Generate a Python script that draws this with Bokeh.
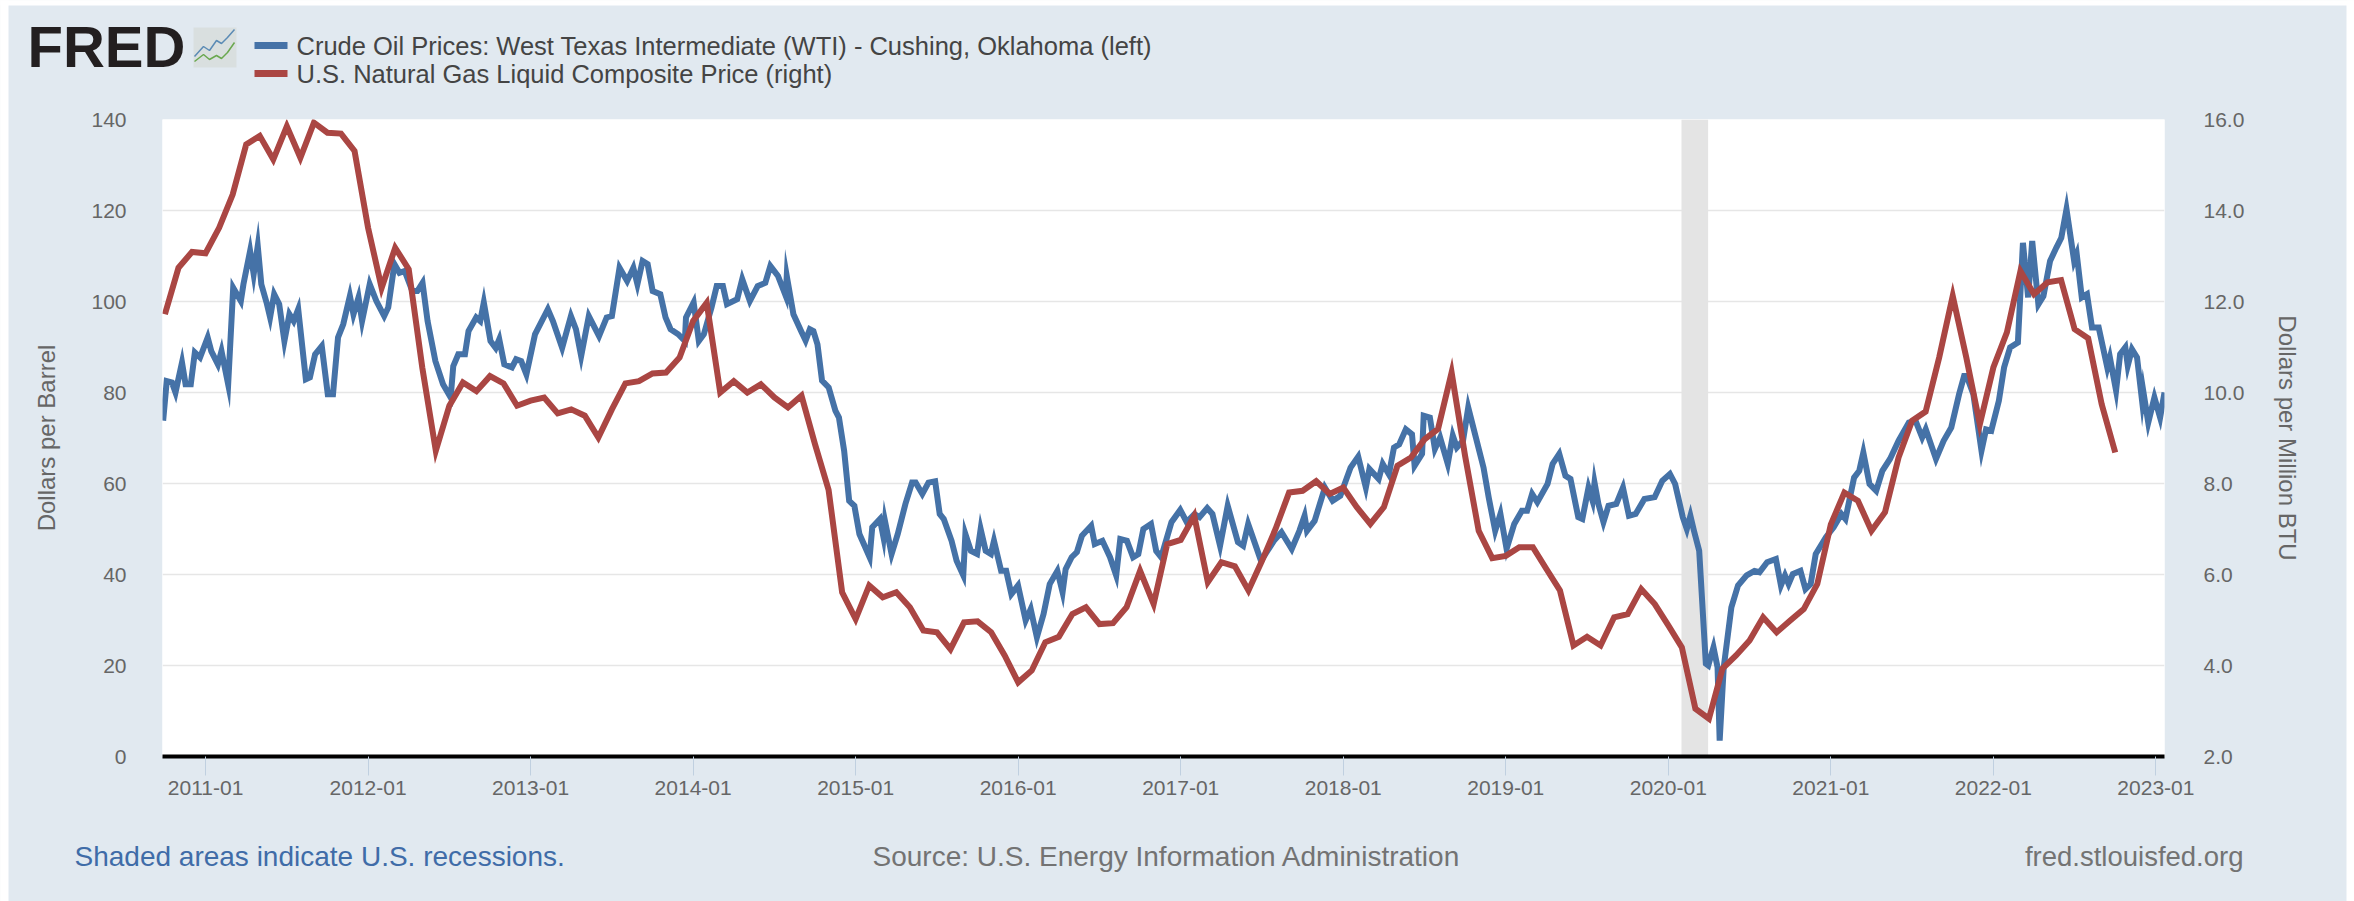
from bokeh.plotting import figure
from bokeh.models import Range1d, LinearAxis, FixedTicker
from bokeh.core.properties import value
from bokeh.embed import file_html
from bokeh.resources import INLINE

# ---------- data ----------
oil_year = [
2010.739,2010.761,2010.793,2010.815,2010.855,2010.877,2010.909,2010.934,2010.966,2011.013,2011.035,2011.076,2011.098,2011.139,2011.170,2011.217,2011.233,2011.274,2011.296,2011.321,
2011.343,2011.375,2011.397,2011.422,2011.453,2011.485,2011.516,2011.542,2011.570,2011.617,2011.642,2011.674,2011.715,2011.752,2011.784,2011.815,2011.847,2011.888,2011.910,2011.941,
2011.963,2012.010,2012.051,2012.099,2012.124,2012.162,2012.193,2012.225,2012.272,2012.303,2012.335,2012.366,2012.414,2012.461,2012.508,2012.524,2012.555,2012.596,2012.618,2012.665,
2012.690,2012.712,2012.753,2012.785,2012.807,2012.838,2012.885,2012.911,2012.942,2012.974,2013.027,2013.106,2013.137,2013.194,2013.248,2013.279,2013.311,2013.358,2013.421,2013.468,
2013.500,2013.547,2013.594,2013.632,2013.657,2013.689,2013.720,2013.751,2013.798,2013.830,2013.861,2013.908,2013.949,2013.956,2014.003,2014.035,2014.066,2014.113,2014.145,2014.183,
2014.208,2014.271,2014.302,2014.349,2014.397,2014.444,2014.475,2014.522,2014.570,2014.576,2014.617,2014.664,2014.692,2014.718,2014.740,2014.765,2014.793,2014.834,2014.875,2014.897,
2014.929,2014.960,2014.992,2015.023,2015.086,2015.102,2015.149,2015.171,2015.180,2015.221,2015.259,2015.306,2015.347,2015.369,2015.410,2015.448,2015.489,2015.517,2015.542,2015.590,
2015.621,2015.662,2015.675,2015.709,2015.747,2015.769,2015.800,2015.832,2015.851,2015.895,2015.926,2015.958,2015.999,2016.046,2016.077,2016.115,2016.156,2016.194,2016.241,2016.273,
2016.292,2016.329,2016.361,2016.392,2016.449,2016.471,2016.518,2016.565,2016.603,2016.628,2016.669,2016.707,2016.739,2016.770,2016.817,2016.849,2016.880,2016.943,2016.997,2017.037,
2017.085,2017.116,2017.163,2017.195,2017.242,2017.289,2017.352,2017.384,2017.415,2017.494,2017.573,2017.620,2017.683,2017.730,2017.762,2017.777,2017.824,2017.887,2017.935,2017.982,
2018.045,2018.092,2018.139,2018.161,2018.218,2018.243,2018.281,2018.312,2018.344,2018.385,2018.423,2018.439,2018.485,2018.495,2018.533,2018.564,2018.596,2018.643,2018.674,2018.699,
2018.737,2018.769,2018.816,2018.863,2018.895,2018.935,2018.967,2019.005,2019.052,2019.099,2019.131,2019.162,2019.194,2019.257,2019.288,2019.329,2019.367,2019.398,2019.446,2019.471,
2019.509,2019.534,2019.546,2019.570,2019.601,2019.632,2019.680,2019.721,2019.758,2019.799,2019.853,2019.916,2019.963,2020.010,2020.042,2020.089,2020.114,2020.136,2020.158,2020.190,
2020.231,2020.246,2020.278,2020.303,2020.316,2020.341,2020.388,2020.429,2020.482,2020.530,2020.561,2020.608,2020.662,2020.693,2020.718,2020.740,2020.766,2020.813,2020.844,2020.876,
2020.907,2020.970,2021.018,2021.065,2021.090,2021.143,2021.175,2021.200,2021.238,2021.279,2021.317,2021.364,2021.417,2021.480,2021.521,2021.562,2021.584,2021.647,2021.694,2021.741,
2021.789,2021.820,2021.836,2021.877,2021.927,2021.955,2021.987,2022.034,2022.066,2022.103,2022.151,2022.182,2022.214,2022.239,2022.277,2022.308,2022.349,2022.387,2022.418,2022.450,
2022.497,2022.513,2022.544,2022.576,2022.607,2022.648,2022.701,2022.717,2022.755,2022.780,2022.812,2022.827,2022.853,2022.884,2022.915,2022.922,2022.953,2022.991,2023.026,2023.053]
oil_price = [
73.8,82.5,82.2,80.0,86.6,81.8,81.8,88.8,87.7,92.1,89.1,86.2,89.1,81.8,103.0,100.1,103.8,111.1,106.0,112.2,
103.8,99.8,96.5,101.6,99.4,91.3,97.2,95.7,98.3,82.9,83.3,88.4,90.2,79.6,79.6,92.1,95.0,101.2,97.2,100.9,
95.7,103.8,100.1,96.8,98.7,108.2,106.3,106.7,102.3,102.3,104.1,95.7,86.9,81.8,78.9,85.8,88.4,88.4,93.5,96.5,
95.7,99.8,91.3,89.8,91.7,86.2,85.5,87.3,86.9,84.0,92.8,98.3,95.7,89.8,96.8,93.9,88.0,96.8,92.4,96.5,
96.8,107.4,104.5,107.4,103.8,108.9,108.2,102.3,101.6,96.5,93.9,92.8,91.3,96.5,99.8,91.3,92.8,98.7,103.4,103.4,
99.4,100.5,104.9,100.1,103.4,104.1,107.8,105.6,101.2,105.6,97.2,93.5,91.4,93.9,93.5,90.6,82.6,81.1,76.0,74.5,
67.2,56.2,55.1,48.9,43.8,50.4,52.2,48.2,51.8,44.5,48.9,55.5,60.2,60.2,57.7,60.2,60.5,53.3,52.2,47.4,
43.0,39.8,48.9,45.2,44.5,50.0,45.2,44.5,47.4,40.8,40.8,35.7,37.6,29.9,32.4,26.2,31.3,37.9,40.8,36.1,
41.2,43.8,44.9,48.5,50.7,46.7,47.4,43.8,39.8,47.8,47.4,43.8,44.5,50.0,51.1,45.2,43.8,51.5,54.2,51.5,
53.3,52.6,54.6,53.3,46.3,55.1,47.1,46.3,51.1,43.0,47.4,49.3,45.6,49.6,52.9,49.6,51.8,59.1,56.2,57.3,
63.5,65.9,59.1,63.2,61.0,64.3,62.0,67.9,68.6,71.9,70.8,63.9,66.5,74.9,74.5,67.6,70.1,64.3,70.5,67.9,
69.4,76.7,70.1,63.5,56.9,49.6,53.3,45.6,51.1,54.0,54.0,57.7,55.9,59.9,64.3,66.5,61.7,61.0,52.6,52.2,
59.1,56.2,60.2,55.5,51.5,55.1,55.5,59.1,52.9,53.3,56.6,57.0,60.6,62.1,59.9,52.6,50.0,52.9,49.6,45.2,
20.4,20.0,24.0,19.6,3.5,19.6,32.8,37.6,39.8,40.8,40.5,42.7,43.4,37.6,39.8,37.9,40.1,40.8,36.8,37.9,
44.5,48.2,50.4,53.3,52.2,61.3,62.8,66.8,59.9,58.4,62.8,65.4,69.4,73.4,73.8,70.1,71.9,65.4,69.4,72.3,
79.6,83.6,83.6,79.6,67.2,71.9,71.6,78.2,85.5,89.9,91.0,112.9,100.9,113.3,99.4,101.2,108.9,111.8,114.0,120.3,
108.9,110.4,100.9,101.6,94.3,94.3,85.5,87.7,80.4,88.4,89.9,85.9,89.5,87.7,78.2,80.4,73.4,78.9,74.5,80.0]

# monthly, first value is October 2010
ngl_start_year, ngl_start_month = 2010, 10
ngl_price = [
11.72,12.74,13.09,13.06,13.62,14.35,15.45,15.64,15.12,15.85,15.16,15.93,15.71,15.69,15.31,
13.62,12.30,13.18,12.71,10.55,8.72,9.71,10.22,10.03,10.36,10.20,9.71,
9.82,9.89,9.54,9.63,9.49,9.01,9.63,10.20,10.25,10.42,10.44,10.77,
11.57,11.97,10.00,10.25,10.00,10.18,9.89,9.67,9.93,8.86,7.86,5.61,
5.02,5.76,5.50,5.61,5.28,4.77,4.73,4.36,4.95,4.97,4.73,4.22,
3.63,3.89,4.51,4.63,5.13,5.28,4.91,4.93,5.28,6.08,5.35,6.67,
6.76,7.29,5.83,6.27,6.18,5.65,6.30,7.00,7.80,7.84,8.05,7.77,
7.91,7.48,7.11,7.48,8.39,8.57,8.97,9.20,10.44,8.60,6.96,6.36,
6.41,6.60,6.60,6.12,5.65,4.44,4.63,4.44,5.06,5.13,5.68,5.35,
4.88,4.40,3.05,2.83,3.93,4.22,4.55,5.06,4.73,4.99,5.24,5.79,
7.10,7.80,7.62,6.96,7.37,8.57,9.38,9.58,10.77,12.12,10.77,9.30,
10.55,11.32,12.67,12.16,12.42,12.47,11.39,11.19,9.74,8.68]

recession_start = [2020.081]
recession_end = [2020.245]

x_tick_years = list(range(2011, 2024))
x_tick_labels = [f"{y}-01" for y in x_tick_years]
left_ticks = [0, 20, 40, 60, 80, 100, 120, 140]
right_ticks = [2, 4, 6, 8, 10, 12, 14, 16]
right_tick_labels = ["2.0", "4.0", "6.0", "8.0", "10.0", "12.0", "14.0", "16.0"]

oil_name = "Crude Oil Prices: West Texas Intermediate (WTI) - Cushing, Oklahoma (left)"
ngl_name = "U.S. Natural Gas Liquid Composite Price (right)"
left_title = "Dollars per Barrel"
right_title = "Dollars per Million BTU"
note_text = "Shaded areas indicate U.S. recessions."
source_text = "Source: U.S. Energy Information Administration"
site_text = "fred.stlouisfed.org"

# ---------- layout ----------
PANEL = "#e1e9f0"
BLUE = "#4572a7"
RED = "#aa4643"
TEXT = "#666666"
FONT = "Liberation Sans"
W, H = 2354, 901
FL, FR, FT, FB = 162, 2164, 119, 756   # frame edges in page pixels
X0, X1 = 2010.735, 2023.053

ngl_year = [ngl_start_year + (ngl_start_month - 1 + i) / 12 for i in range(len(ngl_price))]

p = figure(width=W, height=H, output_backend="svg", toolbar_location=None,
           x_range=Range1d(X0, X1), y_range=Range1d(0, 140),
           background_fill_color="white", border_fill_color=PANEL,
           min_border_left=FL, min_border_right=W - FR,
           min_border_top=FT, min_border_bottom=H - FB)
p.outline_line_color = None
p.extra_y_ranges = {"btu": Range1d(2, 16)}

# axes
p.xaxis.ticker = FixedTicker(ticks=x_tick_years)
p.xaxis.major_label_overrides = dict(zip(x_tick_years, x_tick_labels))
p.xaxis.axis_line_color = "black"
p.xaxis.axis_line_width = 4
p.xaxis.major_tick_line_color = "#c0d0e0"
p.xaxis.major_tick_in = 0
p.xaxis.major_tick_out = 19
p.xaxis.minor_tick_line_color = None
p.xaxis.major_label_text_font = FONT
p.xaxis.major_label_text_font_size = "21px"
p.xaxis.major_label_text_color = TEXT
p.xaxis.major_label_standoff = 5

p.yaxis.ticker = FixedTicker(ticks=left_ticks)
right_axis = LinearAxis(y_range_name="btu", ticker=FixedTicker(ticks=right_ticks),
                        major_label_overrides=dict(zip(right_ticks, right_tick_labels)))
p.add_layout(right_axis, "right")
for ax, title, standoff in ((p.yaxis[0], left_title, 28), (right_axis, right_title, 27)):
    ax.axis_line_color = None
    ax.major_tick_line_color = None
    ax.minor_tick_line_color = None
    ax.major_label_text_font = FONT
    ax.major_label_text_font_size = "21px"
    ax.major_label_text_color = TEXT
    ax.axis_label = title
    ax.axis_label_text_font = FONT
    ax.axis_label_text_font_size = "24px"
    ax.axis_label_text_font_style = "normal"
    ax.axis_label_text_color = TEXT
    ax.axis_label_standoff = standoff
p.yaxis[0].major_label_standoff = 30
right_axis.major_label_standoff = 33

p.xgrid.visible = False
p.ygrid.ticker = FixedTicker(ticks=left_ticks)
p.ygrid.grid_line_color = "#e6e6e6"
p.ygrid.grid_line_width = 1.5

# marks
p.quad(left=recession_start, right=recession_end, bottom=[0], top=[140],
       fill_color="#e4e4e4", line_color=None)
oil = p.line(oil_year, oil_price, line_color=BLUE, line_width=6, line_join="miter")
ngl = p.line(ngl_year, ngl_price, y_range_name="btu", line_color=RED, line_width=6, line_join="miter")


def to_x(px):
    return X0 + (px - FL) * (X1 - X0) / (FR - FL)


def to_y(py):
    return (FB - py) * 140 / (FB - FT)


def label(text, px, py, color, size, align="left", style="normal"):
    p.text(x=[to_x(px)], y=[to_y(py)], text=[text], text_font=value(FONT),
           text_font_size=value(size), text_color=color, text_align=align,
           text_baseline="middle", text_font_style=style, level="overlay")


# white page strips around the panel
for a, b, c, d in ((0, 8, 0, 901), (0, 2354, 0, 5), (2346, 2354, 0, 901)):
    p.quad(left=[to_x(a)], right=[to_x(b)], top=[to_y(c)], bottom=[to_y(d)],
           fill_color="white", line_color=None, level="overlay")

# legend
for key_y, color, name in ((45, BLUE, oil_name), (73, RED, ngl_name)):
    p.line([to_x(254), to_x(287)], [to_y(key_y), to_y(key_y)], line_color=color,
           line_width=7, level="overlay")
    label(name, 296, key_y, "#444444", "25.5px")

label(note_text, 74, 856, "#3f6ca8", "28px")
label(source_text, 872, 856, "#737373", "28px")
label(site_text, 2243, 856, "#737373", "27.5px", align="right")
label("FRED", 27, 46, "#231f20", "58px", style="bold")

# small logo sketch
p.quad(left=[to_x(193)], right=[to_x(236)], bottom=[to_y(67)], top=[to_y(27)],
       fill_color="#d9dfdf", line_color=None, level="overlay")
p.line([to_x(x) for x in (194, 203, 209, 216, 221, 227, 234)],
       [to_y(y) for y in (56, 46, 50, 40, 43, 37, 29)],
       line_color="#5b8bb5", line_width=1.5, level="overlay")
p.line([to_x(x) for x in (194, 203, 209, 216, 221, 227, 234)],
       [to_y(y) for y in (61, 54, 59, 55, 58, 52, 42)],
       line_color="#6aa84f", line_width=1.5, level="overlay")

open("out.html", "w").write(file_html(p, INLINE))
